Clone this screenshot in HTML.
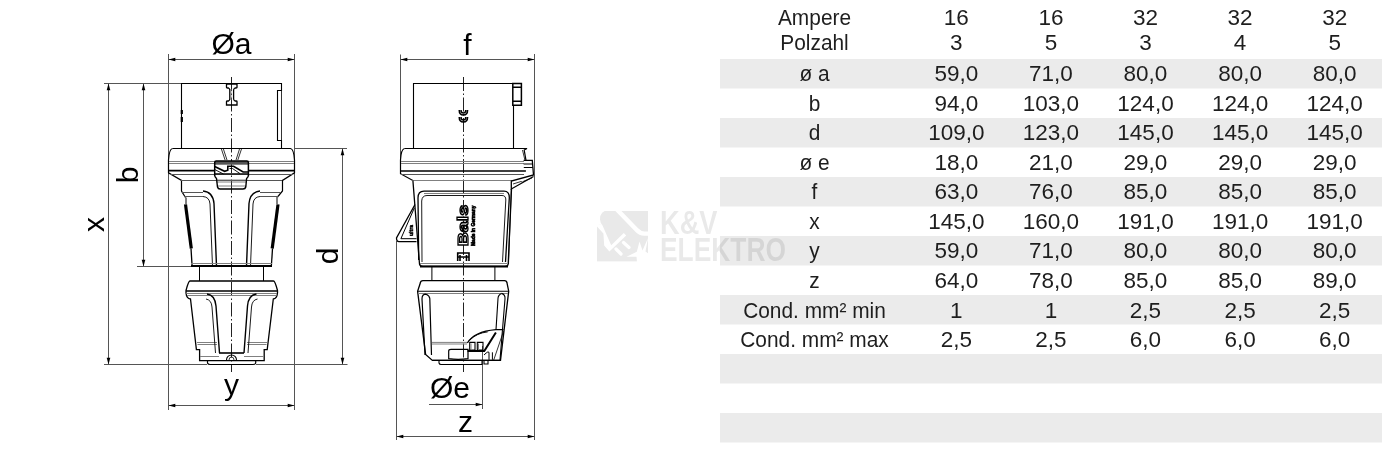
<!DOCTYPE html>
<html><head><meta charset="utf-8">
<style>
html,body{margin:0;padding:0;background:#fff;}
body{width:1382px;height:472px;position:relative;overflow:hidden;}
svg{position:absolute;left:0;top:0;opacity:0.999;font-family:"Liberation Sans",sans-serif;}
.t{font-size:22px;fill:#1e1e1e;text-anchor:middle;}
.v{font-size:22.5px;}
.dt{font-size:30px;fill:#000;}
</style></head><body>
<svg width="1382" height="472" viewBox="0 0 1382 472">
<rect x="720" y="59.0" width="662" height="29.5" fill="#ebebeb"/>
<rect x="720" y="118.0" width="662" height="29.5" fill="#ebebeb"/>
<rect x="720" y="177.0" width="662" height="29.5" fill="#ebebeb"/>
<rect x="720" y="236.0" width="662" height="29.5" fill="#ebebeb"/>
<rect x="720" y="295.0" width="662" height="29.5" fill="#ebebeb"/>
<rect x="720" y="354.0" width="662" height="29.5" fill="#ebebeb"/>
<rect x="720" y="413.0" width="662" height="29.5" fill="#ebebeb"/>
<text class="t" transform="translate(814.5,25.0) scale(0.95,1)">Ampere</text>
<text class="t" transform="translate(814.5,49.6) scale(0.95,1)">Polzahl</text>
<text class="t v" x="956.3" y="25.0">16</text>
<text class="t v" x="956.3" y="49.6">3</text>
<text class="t v" x="1050.9" y="25.0">16</text>
<text class="t v" x="1050.9" y="49.6">5</text>
<text class="t v" x="1145.5" y="25.0">32</text>
<text class="t v" x="1145.5" y="49.6">3</text>
<text class="t v" x="1240.1" y="25.0">32</text>
<text class="t v" x="1240.1" y="49.6">4</text>
<text class="t v" x="1334.7" y="25.0">32</text>
<text class="t v" x="1334.7" y="49.6">5</text>
<text class="t" transform="translate(814.5,81.2) scale(0.95,1)">ø a</text>
<text class="t v" x="956.3" y="81.2">59,0</text>
<text class="t v" x="1050.9" y="81.2">71,0</text>
<text class="t v" x="1145.5" y="81.2">80,0</text>
<text class="t v" x="1240.1" y="81.2">80,0</text>
<text class="t v" x="1334.7" y="81.2">80,0</text>
<text class="t" transform="translate(814.5,110.7) scale(0.95,1)">b</text>
<text class="t v" x="956.3" y="110.7">94,0</text>
<text class="t v" x="1050.9" y="110.7">103,0</text>
<text class="t v" x="1145.5" y="110.7">124,0</text>
<text class="t v" x="1240.1" y="110.7">124,0</text>
<text class="t v" x="1334.7" y="110.7">124,0</text>
<text class="t" transform="translate(814.5,140.2) scale(0.95,1)">d</text>
<text class="t v" x="956.3" y="140.2">109,0</text>
<text class="t v" x="1050.9" y="140.2">123,0</text>
<text class="t v" x="1145.5" y="140.2">145,0</text>
<text class="t v" x="1240.1" y="140.2">145,0</text>
<text class="t v" x="1334.7" y="140.2">145,0</text>
<text class="t" transform="translate(814.5,169.7) scale(0.95,1)">ø e</text>
<text class="t v" x="956.3" y="169.7">18,0</text>
<text class="t v" x="1050.9" y="169.7">21,0</text>
<text class="t v" x="1145.5" y="169.7">29,0</text>
<text class="t v" x="1240.1" y="169.7">29,0</text>
<text class="t v" x="1334.7" y="169.7">29,0</text>
<text class="t" transform="translate(814.5,199.2) scale(0.95,1)">f</text>
<text class="t v" x="956.3" y="199.2">63,0</text>
<text class="t v" x="1050.9" y="199.2">76,0</text>
<text class="t v" x="1145.5" y="199.2">85,0</text>
<text class="t v" x="1240.1" y="199.2">85,0</text>
<text class="t v" x="1334.7" y="199.2">85,0</text>
<text class="t" transform="translate(814.5,228.7) scale(0.95,1)">x</text>
<text class="t v" x="956.3" y="228.7">145,0</text>
<text class="t v" x="1050.9" y="228.7">160,0</text>
<text class="t v" x="1145.5" y="228.7">191,0</text>
<text class="t v" x="1240.1" y="228.7">191,0</text>
<text class="t v" x="1334.7" y="228.7">191,0</text>
<text class="t" transform="translate(814.5,258.2) scale(0.95,1)">y</text>
<text class="t v" x="956.3" y="258.2">59,0</text>
<text class="t v" x="1050.9" y="258.2">71,0</text>
<text class="t v" x="1145.5" y="258.2">80,0</text>
<text class="t v" x="1240.1" y="258.2">80,0</text>
<text class="t v" x="1334.7" y="258.2">80,0</text>
<text class="t" transform="translate(814.5,287.7) scale(0.95,1)">z</text>
<text class="t v" x="956.3" y="287.7">64,0</text>
<text class="t v" x="1050.9" y="287.7">78,0</text>
<text class="t v" x="1145.5" y="287.7">85,0</text>
<text class="t v" x="1240.1" y="287.7">85,0</text>
<text class="t v" x="1334.7" y="287.7">89,0</text>
<text class="t" transform="translate(814.5,318.2) scale(0.95,1)">Cond. mm² min</text>
<text class="t v" x="956.3" y="318.2">1</text>
<text class="t v" x="1050.9" y="318.2">1</text>
<text class="t v" x="1145.5" y="318.2">2,5</text>
<text class="t v" x="1240.1" y="318.2">2,5</text>
<text class="t v" x="1334.7" y="318.2">2,5</text>
<text class="t" transform="translate(814.5,346.7) scale(0.95,1)">Cond. mm² max</text>
<text class="t v" x="956.3" y="346.7">2,5</text>
<text class="t v" x="1050.9" y="346.7">2,5</text>
<text class="t v" x="1145.5" y="346.7">6,0</text>
<text class="t v" x="1240.1" y="346.7">6,0</text>
<text class="t v" x="1334.7" y="346.7">6,0</text>
<g id="drawing" fill="none" stroke-linejoin="round">
<!-- ===== dimension lines ===== -->
<g stroke="#555" stroke-width="1">
  <!-- front: oa / y extension lines -->
  <line x1="168.5" y1="54" x2="168.5" y2="410"/>
  <line x1="294.5" y1="54" x2="294.5" y2="410"/>
  <line x1="168.5" y1="59.5" x2="294.5" y2="59.5"/>
  <line x1="168.5" y1="405.5" x2="294.5" y2="405.5"/>
  <!-- top ext -->
  <line x1="104" y1="83.5" x2="182" y2="83.5"/>
  <!-- x and b dims -->
  <line x1="108.5" y1="83.5" x2="108.5" y2="364.5"/>
  <line x1="143.5" y1="83.5" x2="143.5" y2="266.5"/>
  <line x1="137" y1="266.5" x2="191" y2="266.5"/>
  <line x1="104" y1="364.5" x2="207" y2="364.5"/>
  <line x1="256" y1="364.5" x2="347.5" y2="364.5"/>
  <!-- d dim -->
  <line x1="294.5" y1="148.5" x2="347" y2="148.5"/>
  <line x1="342.5" y1="148.5" x2="342.5" y2="364.5"/>
  <!-- side: f / z -->
  <line x1="400.5" y1="54.5" x2="400.5" y2="160"/>
  <line x1="534.5" y1="54" x2="534.5" y2="440"/>
  <line x1="400.5" y1="59.5" x2="534.5" y2="59.5"/>
  <line x1="396.5" y1="241" x2="396.5" y2="440"/>
  <line x1="396.5" y1="436.5" x2="534.5" y2="436.5"/>
  <!-- oe -->
  <line x1="429" y1="404.5" x2="482.5" y2="404.5"/>
  <line x1="482.5" y1="346" x2="482.5" y2="409"/>
</g>
<!-- arrowheads -->
<g fill="#000" stroke="none">
  <!-- oa -->
  <path d="M168.5,59.5 l6.8,-1.8 v3.6z"/>
  <path d="M294.5,59.5 l-6.8,-1.8 v3.6z"/>
  <!-- y -->
  <path d="M168.5,405.5 l6.8,-1.8 v3.6z"/>
  <path d="M294.5,405.5 l-6.8,-1.8 v3.6z"/>
  <!-- x -->
  <path d="M108.5,83.5 l-1.8,6.8 h3.6z"/>
  <path d="M108.5,364.5 l-1.8,-6.8 h3.6z"/>
  <!-- b -->
  <path d="M143.5,83.5 l-1.8,6.8 h3.6z"/>
  <path d="M143.5,266.5 l-1.8,-6.8 h3.6z"/>
  <!-- d -->
  <path d="M342.5,148.5 l-1.8,6.8 h3.6z"/>
  <path d="M342.5,364.5 l-1.8,-6.8 h3.6z"/>
  <!-- f -->
  <path d="M400.5,59.5 l6.8,-1.8 v3.6z"/>
  <path d="M534.5,59.5 l-6.8,-1.8 v3.6z"/>
  <!-- z -->
  <path d="M396.5,436.5 l6.8,-1.8 v3.6z"/>
  <path d="M534.5,436.5 l-6.8,-1.8 v3.6z"/>
  <!-- oe -->
  <path d="M482.5,404.5 l-6.8,-1.8 v3.6z"/>
</g>
<!-- dimension texts -->
<g font-family="Liberation Sans, sans-serif" fill="#000" stroke="none" font-size="30">
  <text x="231.5" y="54" text-anchor="middle">Øa</text>
  <text x="467.5" y="54.5" text-anchor="middle">f</text>
  <text x="231.5" y="395" text-anchor="middle">y</text>
  <text x="450" y="398" text-anchor="middle">Øe</text>
  <text x="465.5" y="432" text-anchor="middle">z</text>
  <text transform="translate(138,175) rotate(-90)" text-anchor="middle">b</text>
  <text transform="translate(104,224.5) rotate(-90)" text-anchor="middle">x</text>
  <text transform="translate(338,256) rotate(-90)" text-anchor="middle">d</text>
</g>
<!-- centerlines -->
<g stroke="#222" stroke-width="1" stroke-dasharray="14,2.5,1.5,2.5">
  <line x1="231.5" y1="77" x2="231.5" y2="372"/>
  <line x1="463.5" y1="77" x2="463.5" y2="372"/>
</g>
</g>
<g id="front" fill="none" stroke="#000" stroke-width="1.1">
  <!-- plug pin housing -->
  <path d="M181.5,148.5 V83.5 H281.5 V90.5 H277.5 V140.5 H281.5 V148.5"/>
  <line x1="281.5" y1="90.5" x2="281.5" y2="140.5" stroke-width="0.8"/>
  <path d="M181.8,110 v4 M181.8,117 v5" stroke-width="2.2"/>
  <!-- I symbol -->
  <path d="M226.5,84 H237 V87.5 Q237,88 236,88 H235 Q233.8,88.5 233.6,90 V99 Q233.8,100.5 235,101 H236 Q237,101 237,101.5 V105 H226.5 V101.5 Q226.5,101 227.5,101 H228.5 Q229.6,100.5 229.8,99 V90 Q229.6,88.5 228.5,88 H227.5 Q226.5,88 226.5,87.5z" stroke-width="1.3"/>
  <line x1="230.8" y1="89" x2="230.8" y2="100" stroke="#888" stroke-width="1.2"/>
  <!-- collar -->
  <path d="M172.5,148.5 H290.5 Q293.8,149 294.5,160 V172.8 L282.5,180.4 V191 L277.5,197 M172.5,148.5 Q169.2,149 168.5,160 V172.8 L181.5,180.4 V191 L185.5,197.5" stroke-width="1.2"/>
  <path d="M168.8,170.7 H214.7 M248.4,170.7 H294" stroke-width="1.7"/>
  <g stroke="#808080" stroke-width="1">
    <line x1="169" y1="161.5" x2="294" y2="161.5"/>
    <line x1="169" y1="163.5" x2="294" y2="163.5"/>
    <line x1="170" y1="174.5" x2="293" y2="174.5" stroke="#555"/>
    <line x1="181" y1="180.5" x2="282" y2="180.5" stroke="#555"/>
  </g>
  <!-- latch box -->
  <rect x="215" y="161.3" width="33" height="3.4" fill="#555" stroke="none"/>
  <path d="M214.7,176 V162.5 Q214.7,161 216.2,161 H246.9 Q248.4,161 248.4,162.5 V176" stroke-width="1.5"/>
  <path d="M214.7,166.5 L224.6,171.3 L227.8,170.2 V166.2 H233.6 L243.1,172 H248.4" stroke-width="1.6"/>
  <path d="M214.7,169.5 L223.5,174 M229.5,168.5 H232.5 L240,173.6" stroke-width="0.9"/>
  <line x1="214.7" y1="173.8" x2="248.4" y2="173.8" stroke-width="1.3"/>
  <path d="M216,180 H247 M216.5,182 H246.5 M217,186 H246" stroke="#666" stroke-width="0.8"/>
  <path d="M214.7,176 Q215.5,177.5 216.5,178.5 L217.5,187 Q218,189 220,189 H243 Q245.3,189 245.8,187 L246.6,178.5 Q247.7,177.5 248.4,176" stroke-width="1.4"/>
  
  <path d="M221.4,149 L225.1,160 M241.5,149 L237.8,160 M223.4,149 L227,160 M239.5,149 L236,160" stroke-width="0.8"/>
  <!-- upper body outer edges -->
  <path d="M186,197.5 L186,204" stroke-width="1"/>
  <path d="M185.5,204.4 L191.3,248.5" stroke-width="3.2"/>
  <path d="M191,248.5 L192.1,265.5" stroke-width="1.3"/>
  <path d="M277,197 L277,204" stroke-width="1"/>
  <path d="M278,204.4 L272.2,248.5" stroke-width="3.2"/>
  <path d="M272.5,248.5 L271.4,265.5" stroke-width="1.3"/>
  <path d="M191,266 H272" stroke-width="2"/>
  <!-- upper arms -->
  <path d="M203,191 Q213,192 214,203.5 L216.5,266" stroke-width="1.4"/>
  <path d="M203,196.5 Q209.5,197 210,204 L212.5,266" stroke-width="0.9"/>
  <path d="M260,191 Q250,192 249,203.5 L246.5,266" stroke-width="1.4"/>
  <path d="M260,196.5 Q253.5,197 253,204 L250.5,266" stroke-width="0.9"/>
  <g stroke="#808080" stroke-width="1">
    <line x1="182" y1="192.5" x2="203" y2="192.5" stroke="#555"/>
    <line x1="184" y1="196.5" x2="203" y2="196.5" stroke="#555"/>
    <line x1="260" y1="192.5" x2="281" y2="192.5" stroke="#555"/>
    <line x1="260" y1="196.5" x2="279" y2="196.5" stroke="#555"/>
    <line x1="191" y1="263.5" x2="272" y2="263.5"/>
  </g>
  <!-- neck -->
  <path d="M199.5,266 V281 M263.5,266 V281" stroke-width="1"/>
  <!-- gland -->
  <path d="M190,281 H273.5 Q275,281 277.5,290.5 V293 Q277,298.5 273.3,299 L267.2,349.6 H264.2 V360.7 H199.6 V349.6 H196.4 L190.5,299 Q186.5,298.5 186,293 V290.5 Q188.5,281 190,281z" stroke-width="1.3"/>
  <line x1="186" y1="291" x2="277.5" y2="291" stroke-width="1.3"/>
  <g stroke="#808080" stroke-width="1">
    <line x1="186.5" y1="293.5" x2="277" y2="293.5"/>
    <line x1="187" y1="295.5" x2="276.5" y2="295.5"/>
    <line x1="197" y1="342.5" x2="217" y2="342.5"/>
    <line x1="197.5" y1="344.5" x2="217" y2="344.5"/>
    <line x1="247" y1="342.5" x2="267" y2="342.5"/>
    <line x1="247" y1="344.5" x2="266.5" y2="344.5"/>
    <line x1="200" y1="356.5" x2="219" y2="356.5"/>
    <line x1="244" y1="356.5" x2="264" y2="356.5"/>
  </g>
  <!-- lower arms -->
  <path d="M207,294 Q215,295 216,306 L219.5,353" stroke-width="1.4"/>
  <path d="M206,299 Q211.5,300 212,307 L215.5,353" stroke-width="0.9"/>
  <path d="M256.5,294 Q248.5,295 247.5,306 L244,353" stroke-width="1.4"/>
  <path d="M257.5,299 Q252,300 251.5,307 L248,353" stroke-width="0.9"/>
  <path d="M219,353 H244" stroke-width="1.6"/>
  <path d="M226.5,360 a5,5 0 0 1 10,0" stroke-width="1.1"/>
  <path d="M229,360 a2.5,3 0 0 1 5,0" stroke-width="0.8"/>
  <!-- bottom plate -->
  <path d="M207.5,360.7 V363 Q208,364.5 210,364.5 H253 Q255.5,364.5 255.7,363 V360.7" stroke-width="1.2"/>
</g>
<g id="side" fill="none" stroke="#000" stroke-width="1.1">
  <!-- plug pin housing -->
  <path d="M413.5,148.5 V83.5 H512.8 M513.5,105.3 V148.5"/>
  <path d="M512.8,83.6 H521.4 V105.2 H512.8z" stroke-width="1.5"/>
  <path d="M512.8,87.3 H521.4 M512.8,101.3 H521.4" stroke-width="1.5"/>
  <path d="M514.5,85.5 H519.8 M514.5,103.2 H519.8" stroke="#fff" stroke-width="0.9"/>
  <!-- CE-like symbol -->
  <path d="M459.2,110 Q459.2,115 463.4,115 Q467.6,115 467.6,110 M461,110 Q461,113 463.4,113 Q465.8,113 465.8,110" stroke-width="1.5"/>
  <path d="M459.2,117 Q459.2,122 463.4,122 Q467.6,122 467.6,117 M461,117 Q461,120 463.4,120 Q465.8,120 465.8,117" stroke-width="1.5"/>
  <!-- collar -->
  <path d="M404.4,148.5 H527 L524.2,150 L526,160.4 M404.4,148.5 Q401,149.5 400.5,160 V173.7 L412.9,180.5" stroke-width="1.2"/>
  <path d="M522.5,150 L525,160.4" stroke-width="0.8"/>
  <line x1="400.5" y1="171" x2="525.9" y2="171" stroke-width="1.7"/>
  <g stroke="#808080" stroke-width="1">
    <line x1="401" y1="161.5" x2="524" y2="161.5"/>
    <line x1="401" y1="163.5" x2="524" y2="163.5"/>
    <line x1="401" y1="174.5" x2="524" y2="174.5" stroke="#555"/>
    <line x1="412" y1="180.5" x2="512" y2="180.5"/>
  </g>
  <!-- clip -->
  <path d="M523.6,160.4 H532.3 L533.5,175 L511.3,181 V189 L533.5,176.5" stroke-width="1.3"/>
  <path d="M523.6,164 H532.5 M523.8,167.5 H532.8" stroke-width="1.2"/>
  <path d="M513,184 L521,181.5 Q522,183 524,181 L532,178" stroke-width="0.8"/>
  <!-- body edges -->
  <path d="M412.9,180.5 L419.5,264 Q420,266.4 423,266.4 H505 Q508,266.4 508.2,264 L511.5,189" stroke-width="1.3"/>
  <path d="M511.3,189 L508.5,264" stroke-width="0.8"/>
  <line x1="420" y1="266.4" x2="508" y2="266.4" stroke-width="2"/>
  <!-- inner panel upper -->
  <path d="M418.7,260 L418,198 Q418,191.2 424,191.2 H504 Q509.5,191.2 509.3,198 L505.5,262" stroke-width="1.3"/>
  <path d="M422,262 L421.7,201 Q422,195.5 427,195.5 H502 Q506,195.5 505.8,200 L502.5,262" stroke-width="0.9"/>
  <path d="M424,193.5 H504" stroke="#808080" stroke-width="1"/>
  <path d="M420,263.5 H507" stroke="#808080" stroke-width="1"/>
  <!-- triangle tab -->
  <path d="M415,204.5 L396.5,238 Q396.5,241.6 399,241.6 H416.5" stroke-width="1.3"/>
  <path d="M414.3,208 L400.9,238.7 H416.5" stroke-width="1"/>
  <text transform="translate(412.8,236) rotate(-90)" font-family="Liberation Sans, sans-serif" font-weight="bold" font-size="5.5" textLength="11" lengthAdjust="spacingAndGlyphs" fill="#000" stroke="#000" stroke-width="0.5">ultra</text>
  <!-- Bals logo -->
  <text transform="translate(468.3,246.3) rotate(-90)" x="0" y="0" font-family="Liberation Sans, sans-serif" font-weight="bold" font-size="15.5" textLength="41.4" lengthAdjust="spacingAndGlyphs" fill="#fff" stroke="#000" stroke-width="1.3">Bals</text>
  <text transform="translate(475.2,246) rotate(-90)" x="0" y="0" font-family="Liberation Sans, sans-serif" font-weight="bold" font-size="5" textLength="40.5" lengthAdjust="spacingAndGlyphs" fill="#000" stroke="#000" stroke-width="0.6">Made in Germany</text>
  <path d="M457.7,261 V253 H469 V261 M460,255 V261 M466.5,255 V261 M457.7,257 H469" stroke-width="1.6"/>
  <!-- neck -->
  <path d="M431.9,266.4 V280.7 M494.9,266.4 V280.7" stroke-width="1"/>
  <!-- gland -->
  <path d="M423,280.7 H504.5 Q506.8,280.7 507,283 L508.7,291.2 L500.5,360.4 H432.4 L425.6,354.4 L417.6,291.2 L420.3,283 Q420.5,280.7 423,280.7z" stroke-width="1.3"/>
  <line x1="417.8" y1="291.2" x2="508.5" y2="291.2" stroke-width="1.1"/>
  <g stroke="#808080" stroke-width="1">
    <line x1="418" y1="293.5" x2="508" y2="293.5"/>
    <line x1="432" y1="342.4" x2="467" y2="342.4"/>
    <line x1="432" y1="344" x2="467" y2="344"/>
  </g>
  <!-- gland inner panel -->
  <path d="M425,355 L422,299 Q422,294.2 426,294.2 Q429.5,295.5 429.8,298.5 L431.5,355" stroke-width="1.2"/>
  <path d="M501.5,293.4 Q505.5,294.5 505,299 L500,360" stroke-width="1.1"/>
  <path d="M501.5,293.4 Q498,295 498,298.5 L496,329.6" stroke-width="1.1"/>
  <!-- latch mechanism -->
  <path d="M467.4,343 Q474,331.5 495.9,329.6 H503.5" stroke-width="1.4"/>
  <path d="M469.7,340 Q477,333 487.7,331.9" stroke-width="0.9"/>
  <path d="M495.9,332.5 L484.3,351.1 L467.5,351.1" stroke-width="2"/>
  <path d="M503.5,331.3 L493.6,360.4" stroke-width="0.8"/>
  <path d="M484,355 Q489,350 489,353 V359.8 M492.4,359.8 V352.3" stroke-width="1"/>
  <path d="M469.7,342.4 h5.3 v7.6 h-5.3z M477.3,342.4 h5.7 v7.6 h-5.7z" stroke-width="1.1"/>
  <path d="M471,343.5 v5.5 M478.5,343.5 v5.5" stroke="#808080" stroke-width="1"/>
  <path d="M448.7,358.7 V351 Q448.7,349.4 451,349.4 H468 V358.7 Q458,360 448.7,358.7z" stroke-width="1.2"/>
  <path d="M432.4,360.4 H500.5" stroke-width="1.3"/>
  <!-- bottom plate -->
  <path d="M439,360.4 V363 Q439.5,364.5 441,364.5 H482 V360.4 M484,360.4 V364 H488 V360.4" stroke-width="1.1"/>
</g>
<g id="wm" opacity="0.088">
  <defs>
    <mask id="lm" maskUnits="userSpaceOnUse" x="590" y="200" width="70" height="70">
      <rect x="597" y="211" width="51" height="50.6" fill="#fff"/>
      <g fill="#000" stroke="none">
        <path d="M596,210 H608.5 A8.6,8.6 0 0 0 600,219.5 Q600.3,223 602.3,225 L596,224 Z"/>
        <path d="M596,223.5 L602.3,225 L611.2,245.2 L623.8,233 L626.2,235.6 L609.4,251.5 L604.2,245.5 L603.4,233.5 L597,226.6 Z"/>
        <path d="M648,238 L642.5,250.5 L639.5,241.5 L636.8,251.8 L626.5,256.8 L636.5,256.8 L637,262 H649 V254 L645.5,251.5 Z"/>
      </g>
      <g stroke="#000" fill="none" stroke-linecap="round">
        <path d="M615.5,208 L636.5,229.8 Q640,233.6 644.5,233.6 H651" stroke-width="4.4"/>
        <path d="M616,249 L621,254 M623.5,242.5 L629,247.5" stroke-width="3.2"/>
      </g>
    </mask>
  </defs>
  <rect x="597" y="211" width="51" height="50.6" fill="#000" mask="url(#lm)"/>
  <g font-family="Liberation Sans, sans-serif" font-weight="bold" font-size="33.2" fill="#000">
    <text x="660" y="234.2" textLength="57.5" lengthAdjust="spacingAndGlyphs">K&amp;V</text>
    <text x="660" y="260.9" textLength="126" lengthAdjust="spacingAndGlyphs">ELEKTRO</text>
  </g>
</g>

</svg>
</body></html>
